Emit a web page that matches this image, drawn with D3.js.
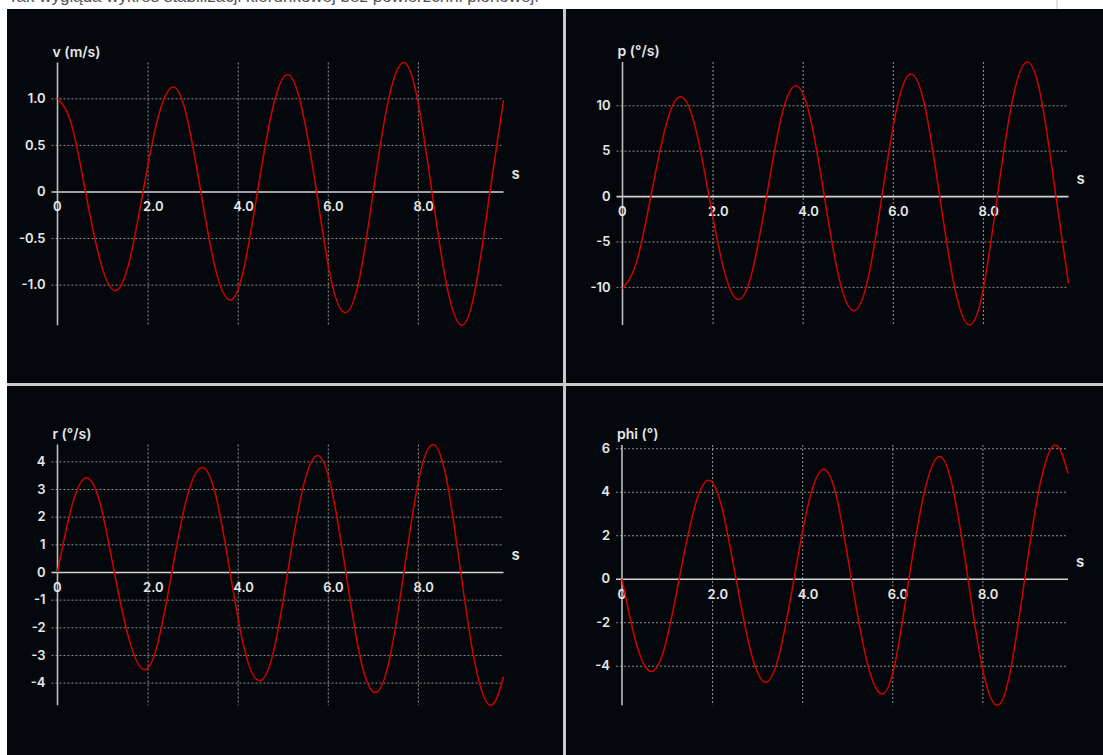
<!DOCTYPE html>
<html><head><meta charset="utf-8">
<script src="https://cdn.jsdelivr.net/npm/d3@7"></script>
<style>
body{margin:0;background:#fff;overflow:hidden}
svg{display:block}
</style>
</head><body>
<svg id="c" width="1103" height="755"></svg>
<script>
// ---- data ----
const caption = "Tak wygląda wykres stabilizacji kierunkowej bez powierzchni pionowej.";

const tV   = [0,0.31,0.62,0.95,1.28,1.59,1.90,2.23,2.57,2.87,3.18,3.50,3.83,4.13,4.44,4.77,5.10,5.42,5.75,6.06,6.38,6.70,7.01,7.34,7.68,7.99,8.31,8.64,8.97,9.28,9.60,9.90];
const vVals= [1.0,0.72,0,-0.75,-1.065,-0.76,0,0.79,1.12,0.80,0,-0.82,-1.165,-0.84,0,0.88,1.255,0.90,0,-0.92,-1.30,-0.94,0,0.97,1.384,0.99,0,-1.01,-1.436,-1.03,0,0.98];

const tP   = [0,0.31,0.63,0.96,1.28,1.60,1.92,2.25,2.57,2.88,3.20,3.52,3.84,4.16,4.48,4.80,5.13,5.45,5.76,6.08,6.40,6.72,7.04,7.37,7.70,8.01,8.32,8.65,8.98,9.30,9.62,9.90];
const pVals= [-10.2,-7.3,0,7.7,10.95,7.9,0,-8.1,-11.4,-8.3,0,8.6,12.16,8.8,0,-8.9,-12.64,-9.1,0,9.5,13.44,9.7,0,-10.0,-14.2,-10.2,0,10.4,14.77,10.6,0,-9.63];

const tR   = [0,0.32,0.64,0.95,1.26,1.60,1.93,2.23,2.54,2.87,3.21,3.52,3.83,4.15,4.48,4.80,5.11,5.44,5.77,6.08,6.40,6.72,7.05,7.37,7.69,8.01,8.33,8.64,8.95,9.28,9.62,9.90];
const rVals= [0,2.4,3.41,2.45,0,-2.5,-3.53,-2.55,0,2.68,3.78,2.72,0,-2.8,-3.93,-2.85,0,2.98,4.21,3.02,0,-3.1,-4.36,-3.15,0,3.27,4.61,3.32,0,-3.42,-4.82,-3.79];

const tPhi = [0,0.32,0.65,0.96,1.27,1.60,1.92,2.22,2.53,2.86,3.19,3.50,3.82,4.15,4.48,4.78,5.09,5.43,5.77,6.07,6.37,6.71,7.05,7.36,7.68,8.00,8.33,8.63,8.94,9.28,9.62,9.90];
const phiVals=[0,-3.0,-4.27,-3.05,0,3.2,4.53,3.25,0,-3.37,-4.76,-3.4,0,3.56,5.04,3.6,0,-3.75,-5.30,-3.8,0,3.97,5.62,4.0,0,-4.12,-5.82,-4.15,0,4.35,6.15,4.84];

const xTicks   = [0,2,4,6,8];
const vTicks   = [-1,-0.5,0,0.5,1];
const pTicks   = [-10,-5,0,5,10];
const rTicks   = [-4,-3,-2,-1,0,1,2,3,4];
const phiTicks = [-4,-2,0,2,4,6];

const titles = ["v (m/s)","p (°/s)","r (°/s)","phi (°)"];
const xUnit = "s";

// ---- layout ----
const svg = d3.select("#c");
const FONT = "Inter, 'Noto Sans', sans-serif";

svg.append("text").attr("x",8).attr("y",1.5)
  .attr("font-family","'Liberation Sans', Arial, sans-serif").attr("font-size",17)
  .attr("fill","#555").text(caption);
svg.append("rect").attr("x",1056).attr("y",0).attr("width",2).attr("height",9).attr("fill","#dfe2ea");

svg.append("rect").attr("x",7).attr("y",9).attr("width",1096).attr("height",746).attr("fill","#04080c");
svg.append("rect").attr("x",563).attr("y",9).attr("width",3).attr("height",746).attr("fill","#c9c9c9");
svg.append("rect").attr("x",7).attr("y",383).attr("width",1096).attr("height",3).attr("fill","#c9c9c9");

const panels = [
  {t:tV,  v:vVals,  ticks:vTicks,  fmt:d=> d===0?"0":d.toFixed(1), x0:57.5, x1:503.5,  y0:62.5, y1:325.3},
  {t:tP,  v:pVals,  ticks:pTicks,  fmt:d=> String(d),              x0:622.5,x1:1068.5, y0:62,   y1:325},
  {t:tR,  v:rVals,  ticks:rTicks,  fmt:d=> String(d),              x0:57.5, x1:503.5,  y0:444.5,y1:705.3},
  {t:tPhi,v:phiVals,ticks:phiTicks,fmt:d=> String(d),              x0:622,  x1:1068,   y0:445,  y1:705.3}
];

panels.forEach((p,i)=>{
  const x = d3.scaleLinear().domain([0, d3.max(p.t)]).range([p.x0, p.x1]);
  const y = d3.scaleLinear().domain(d3.extent(p.v)).range([p.y1, p.y0]);
  const g = svg.append("g").attr("font-family",FONT);
  const w = p.x1 - p.x0;

  // horizontal grid + y labels
  const ya = g.append("g").attr("transform",`translate(${p.x0},0)`)
    .call(d3.axisLeft(y).tickValues(p.ticks).tickFormat(p.fmt).tickSize(-w).tickPadding(12));
  ya.select(".domain").remove();
  ya.selectAll(".tick line").attr("x1",-6)
    .attr("stroke", d=> d===0 ? "#d4d4d4" : "#8c8c8c")
    .attr("stroke-width", d=> d===0 ? 1.6 : 1)
    .attr("stroke-dasharray", d=> d===0 ? null : "2,2");
  ya.selectAll(".tick text").attr("fill","#e8e8e8").attr("font-size",13).attr("font-weight",600)
    .attr("font-family",FONT);

  // vertical grid
  const xg = g.append("g").attr("transform",`translate(0,${p.y0})`)
    .call(d3.axisBottom(x).tickValues(xTicks.filter(d=>d>0)).tickFormat("").tickSize(p.y1-p.y0));
  xg.select(".domain").remove();
  xg.selectAll(".tick line").attr("stroke","#959595").attr("stroke-dasharray","2,2");

  // y axis line
  g.append("line").attr("x1",p.x0).attr("x2",p.x0).attr("y1",p.y0).attr("y2",p.y1)
    .attr("stroke","#bdbdbd").attr("stroke-width",1.6);

  // x labels at zero line
  const xl = g.append("g").attr("transform",`translate(0,${y(0)})`)
    .call(d3.axisBottom(x).tickValues(xTicks).tickFormat(d=> d===0?"0":d.toFixed(1)).tickSize(0).tickPadding(0));
  xl.select(".domain").remove();
  xl.selectAll(".tick text").attr("text-anchor","start").attr("dx",-5).attr("y",20).attr("dy",0)
    .attr("fill","#e8e8e8").attr("font-size",13).attr("font-weight",600).attr("font-family",FONT);

  // titles
  g.append("text").attr("x",p.x0-5).attr("y",p.y0-6).attr("fill","#e8e8e8")
    .attr("font-size",14).attr("font-weight",600).text(titles[i]);
  g.append("text").attr("x",p.x1+8).attr("y",y(0)-12).attr("fill","#e8e8e8")
    .attr("font-size",15).attr("font-weight",600).text(xUnit);

  // data line
  const line = d3.line().x((d,k)=>x(p.t[k])).y(d=>y(d)).curve(d3.curveNatural);
  g.append("path").datum(p.v).attr("d",line).attr("fill","none")
    .attr("stroke","#d20000").attr("stroke-width",1.5);
});
</script>
</body></html>
